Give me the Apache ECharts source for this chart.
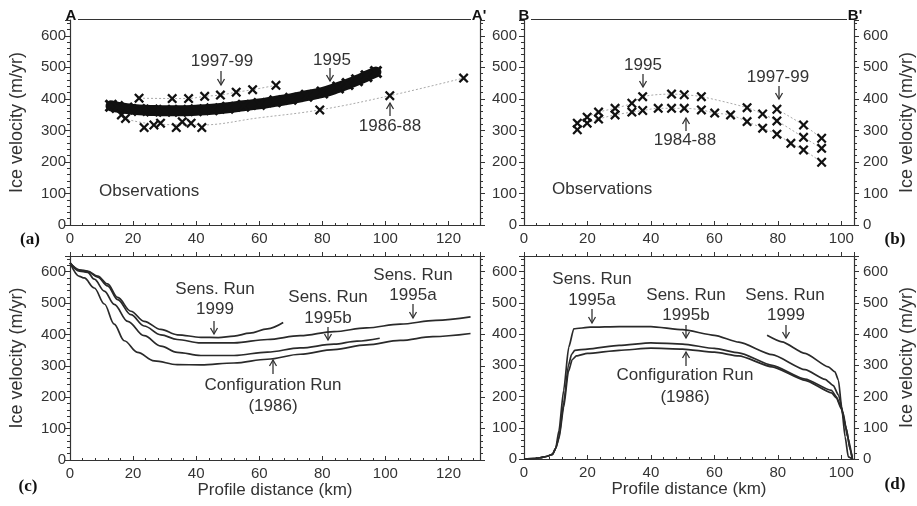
<!DOCTYPE html>
<html><head><meta charset="utf-8">
<script src="https://cdn.jsdelivr.net/npm/echarts@6/dist/echarts.min.js"></script>
<style>html,body{margin:0;padding:0;background:#fff}#c{width:917px;height:506px}</style>
</head><body><div id="c"></div>
<script>
// ---------- DATA ----------
// Panel (a): profile A-A' observations
const a95Km  = [13,15,18,22,26,30,35,40,45,50,55,60,65,70,75,80,85,88,91,94,97];
const a95Vel = [378,374,369,365,363,362,362,364,367,372,378,384,392,400,410,420,436,447,459,472,485];
const a97Km  = [21.9,32.4,37.6,42.7,47.7,52.7,57.9,65.3];
const a97Vel = [402,401,401,408,412,421,429,443];
const a86Km  = [16.3,17.6,23.5,26.6,28.7,33.7,35.6,38.4,41.8,79.2,101.4,124.8];
const a86Vel = [349,338,309,317,323,309,327,323,309,365,410,466];
const a86TrendKm  = [17,25,41,60,79.2,101.4,124.8];
const a86TrendVel = [338,322,317,340,365,410,466];

// Panel (b): profile B-B' observations
const b95Km  = [16.8,19.9,23.5,28.7,34,37.4,46.5,50.5,55.9,70.3,75.2,79.7,88.1,93.8];
const b95Vel = [323,342,358,370,386,407,415,413,407,372,352,330,278,243];
const b84Km  = [16.8,19.9,23.5,28.7,34,37.4,42.3,46.5,50.5,55.9,60.1,65.1,70.3,75.2,79.7,84.1,88.1,93.8];
const b84Vel = [302,323,336,349,358,363,370,370,370,365,355,349,328,307,288,259,238,199];
const b97Km  = [79.7,88.1,93.8];
const b97Vel = [367,317,275];

// Panel (c): model runs along A-A'
const cCfgKm  = [0,3,4.5,7.7,10.9,14,17.2,21.4,26.7,34,41.5,52,62.6,73,83.7,94,104.7,115,127];
const cCfgVel = [628,585,580,548,497,433,380,343,316,304,303,309,321,337,352,367,381,393,403];
const c95bKm  = [0,3,5.6,7.7,10.9,14,18.3,23.5,28.8,34,41.5,52,62.6,73,83.7,91,98.2];
const c95bVel = [628,602,598,576,538,496,442,396,363,343,333,333,344,357,369,379,388];
const c95aKm  = [0,3,5.6,8.8,11.9,15.1,19.3,23.5,28.8,34,41.5,52,62.6,73,83.7,94,104.7,116,127];
const c95aVel = [628,604,600,583,555,511,463,427,399,384,373,373,384,396,409,421,433,445,456];
const c99Km   = [0,3,5.6,8.8,11.9,15.1,19.3,23.5,28.8,34,41.5,47,52,57,62.6,67.6];
const c99Vel  = [628,606,602,586,561,518,474,442,416,399,391,390,395,404,418,438];

// Panel (d): model runs along B-B'
const dCfgKm  = [0,3,5,7,9,10,11,12.5,14,15.2,16.5,20,30,40,50,60,67.7,78.2,88.6,96.9,98.5,100,101.5,102.8,103.5];
const dCfgVel = [0,1,4,8,15,35,65,165,280,318,330,338,348,355,352,342,330,295,252,212,195,160,100,30,0];
const d95bKm  = [0,3,5,7,9,10,11,12.5,14,15,16,20,30,40,50,60,67.7,78.2,88.6,96.9,98.4,100,101.5,102.8,103.5];
const d95bVel = [0,1,4,8,15,33,70,180,300,335,348,352,364,372,368,354,340,300,256,220,200,165,100,30,0];
const d95aKm  = [0,3,5,7,9,10,11,12.5,14.1,15.7,20.9,30,40,50,60,67.7,78.2,88.6,94.9,97.5,99.1,100.5,102,103.5];
const d95aVel = [0,1,4,8,15,35,90,220,358,417,422,424,424,414,396,374,334,286,255,235,205,150,70,0];
const d99Km   = [76.6,81.3,88.6,95.9,98,99.1,100.1,101.2,102.2,103.5];
const d99Vel  = [396,375,338,295,279,252,167,71,7,0];

// axis settings
const velMax = 650, velStep = 100;
const kmMaxA = 130, kmMaxB = 104, kmStep = 20;

// ---------- CHART ----------
const FONT = '"Liberation Sans", Arial, sans-serif';
const INK = '#333';
const X_SYM = 'path://M0,1.6L1.6,0L5,3.4L8.4,0L10,1.6L6.6,5L10,8.4L8.4,10L5,6.6L1.6,10L0,8.4L3.4,5Z';
const pairs = (xs, ys) => xs.map((x, i) => [x, ys[i]]);

const chart = echarts.init(document.getElementById('c'));

function xBottom(g, max, name) {
  return {type:'value', gridIndex:g, position:'bottom', min:0, max:max, interval:kmStep,
    name:name || '', nameLocation:'middle', nameGap:21,
    nameTextStyle:{fontSize:17, color:INK, fontFamily:FONT},
    axisLine:{show:true, onZero:false, lineStyle:{color:INK, width:1.2}},
    axisTick:{show:true, inside:true, length:4, lineStyle:{color:INK}},
    minorTick:{show:true, splitNumber:5, length:2, lineStyle:{color:INK}},
    axisLabel:{fontSize:15, color:INK, fontFamily:FONT, margin:6, showMaxLabel:false},
    splitLine:{show:false}, minorSplitLine:{show:false}};
}
function xTop(g, max) {
  return {type:'value', gridIndex:g, position:'top', min:0, max:max, interval:kmStep,
    axisLine:{show:true, onZero:false, lineStyle:{color:INK, width:1.2}},
    axisTick:{show:true, inside:false, length:4, lineStyle:{color:INK}},
    minorTick:{show:true, splitNumber:5, length:2, lineStyle:{color:INK}},
    axisLabel:{show:false}, splitLine:{show:false}};
}
function yAx(g, pos, showLabel, margin, name) {
  return {type:'value', gridIndex:g, position:pos, min:0, max:velMax, interval:velStep,
    name:name || '', nameLocation:'middle', nameGap:44, nameRotate:90,
    nameTextStyle:{fontSize:18, color:INK, fontFamily:FONT},
    axisLine:{show:true, onZero:false, lineStyle:{color:INK, width:1.2}},
    axisTick:{show:true, inside:false, length:5, lineStyle:{color:INK}},
    minorTick:{show:true, splitNumber:5, length:3, lineStyle:{color:INK}},
    axisLabel:{show:showLabel, fontSize:15, color:INK, fontFamily:FONT, margin:margin, showMaxLabel:false},
    splitLine:{show:false}, minorSplitLine:{show:false}};
}

const VEL = 'Ice velocity (m/yr)';
const KM = 'Profile distance (km)';

function obsLine(xi, data, dotted) {
  return {type:'line', xAxisIndex:xi, yAxisIndex:xi, data:data, smooth:0.3,
    symbol:X_SYM, symbolSize:10, showSymbol:true, itemStyle:{color:'#111', opacity:1},
    lineStyle:{color:'#aaa', width:1, type:dotted ? [2,2] : 'solid'}, z:3, silent:true, animation:false};
}
function obsScatter(xi, data) {
  return {type:'scatter', xAxisIndex:xi, yAxisIndex:xi, data:data, symbol:X_SYM, symbolSize:10,
    itemStyle:{color:'#111', opacity:1}, z:4, silent:true, animation:false};
}
function trend(xi, data) {
  return {type:'line', xAxisIndex:xi, yAxisIndex:xi, data:data, smooth:0.4, showSymbol:false,
    lineStyle:{color:'#aaa', width:1, type:[2,2]}, z:2, silent:true, animation:false};
}
function run(xi, data, sm) {
  return {type:'line', xAxisIndex:xi, yAxisIndex:xi, data:data, smooth:sm, smoothMonotone:'x',
    showSymbol:false, lineStyle:{color:'#2a2a2a', width:1.7}, z:3, silent:true, animation:false};
}

// annotation helpers (layout only)
function txt(x, y, s, align) {
  return {type:'text', x:x, y:y, silent:true,
    style:{text:s, fontSize:17, fontFamily:FONT, fill:INK, align:align || 'center', verticalAlign:'middle'}};
}
function arrow(x, yTail, yTip) {
  const d = yTip > yTail ? 1 : -1;
  return {type:'group', silent:true, children:[
    {type:'line', shape:{x1:x, y1:yTail, x2:x, y2:yTip}, style:{stroke:INK, lineWidth:1.3}},
    {type:'polyline', shape:{points:[[x-3.5, yTip - d*6], [x, yTip], [x+3.5, yTip - d*6]]},
      style:{stroke:INK, lineWidth:1.3, fill:null}}
  ]};
}
function bold(x, y, s, serif) {
  return {type:'text', x:x, y:y, silent:true,
    style:{text:s, fontSize:serif ? 17 : 15, fontWeight:'bold',
      fontFamily:serif ? '"Liberation Serif", "Times New Roman", serif' : FONT,
      fill:'#111', align:'center', verticalAlign:'middle'}};
}
function hline(x1, x2, y) {
  return {type:'line', silent:true, shape:{x1:x1, y1:y, x2:x2, y2:y}, style:{stroke:INK, lineWidth:1.2}};
}

const graphics = [
  bold(71, 16, 'A'), bold(479, 16, "A'"), hline(78, 471, 19.5),
  bold(524, 16, 'B'), bold(855, 16, "B'"), hline(531, 847, 19.5),
  bold(30, 240, '(a)', true), bold(895, 240, '(b)', true),
  bold(28, 487, '(c)', true), bold(895, 485, '(d)', true),
  // (a)
  txt(222, 61, '1997-99'), arrow(221, 71, 85),
  txt(332, 60, '1995'), arrow(330, 68, 81),
  txt(390, 126, '1986-88'), arrow(390, 116, 103),
  txt(99, 191, 'Observations', 'left'),
  // (b)
  txt(643, 65, '1995'), arrow(643, 74, 87),
  txt(778, 77, '1997-99'), arrow(779, 86, 99),
  txt(685, 140, '1984-88'), arrow(686, 131, 118),
  txt(552, 189, 'Observations', 'left'),
  // (c)
  txt(215, 289, 'Sens. Run'), txt(215, 309, '1999'), arrow(214, 321, 334),
  txt(328, 297, 'Sens. Run'), txt(328, 318, '1995b'), arrow(328, 327, 340),
  txt(413, 275, 'Sens. Run'), txt(413, 295, '1995a'), arrow(413, 304, 318),
  txt(273, 385, 'Configuration Run'), txt(273, 406, '(1986)'), arrow(273, 374, 360),
  // (d)
  txt(592, 279, 'Sens. Run'), txt(592, 300, '1995a'), arrow(592, 309, 323),
  txt(686, 295, 'Sens. Run'), txt(686, 315, '1995b'), arrow(686, 325, 338),
  txt(785, 295, 'Sens. Run'), txt(786, 315, '1999'), arrow(786, 325, 338),
  txt(685, 375, 'Configuration Run'), txt(685, 397, '(1986)'), arrow(686, 366, 352)
];

const option = {
  backgroundColor:'#fff',
  animation:false,
  grid:[
    {left:70, top:20, width:410, height:205},
    {left:524, top:20, width:333, height:205},
    {left:70, top:256, width:410, height:204},
    {left:524, top:256, width:332, height:203}
  ],
  xAxis:[
    xBottom(0, kmMaxA), xBottom(1, kmMaxB), xBottom(2, kmMaxA, KM), xBottom(3, kmMaxB, KM),
    xTop(2, kmMaxA), xTop(3, kmMaxB)
  ],
  yAxis:[
    yAx(0, 'left', true, 4, VEL), yAx(1, 'left', true, 7), yAx(2, 'left', true, 4, VEL), yAx(3, 'left', true, 7),
    yAx(0, 'right', false, 8), yAx(1, 'right', true, 9, VEL), yAx(2, 'right', false, 8), yAx(3, 'right', true, 9, VEL)
  ],
  series:[
    // (a)
    {type:'line', xAxisIndex:0, yAxisIndex:0, data:pairs(a95Km, a95Vel), smooth:0.4,
      symbol:X_SYM, symbolSize:13, showSymbol:true, itemStyle:{color:'#111', opacity:1},
      lineStyle:{color:'#111', width:11, cap:'round'}, z:3, silent:true},
    obsLine(0, pairs(a97Km, a97Vel), true),
    trend(0, pairs(a86TrendKm, a86TrendVel)),
    obsScatter(0, pairs(a86Km, a86Vel)),
    // (b)
    obsLine(1, pairs(b95Km, b95Vel), true),
    obsLine(1, pairs(b84Km, b84Vel), true),
    obsLine(1, pairs(b97Km, b97Vel), true),
    // (c)
    run(2, pairs(cCfgKm, cCfgVel), 0.35),
    run(2, pairs(c95bKm, c95bVel), 0.35),
    run(2, pairs(c95aKm, c95aVel), 0.35),
    run(2, pairs(c99Km, c99Vel), 0.35),
    // (d)
    run(3, pairs(dCfgKm, dCfgVel), 0.2),
    run(3, pairs(d95bKm, d95bVel), 0.2),
    run(3, pairs(d95aKm, d95aVel), 0.2),
    run(3, pairs(d99Km, d99Vel), 0.2)
  ],
  graphic:graphics
};
chart.setOption(option);
</script>
</body></html>
